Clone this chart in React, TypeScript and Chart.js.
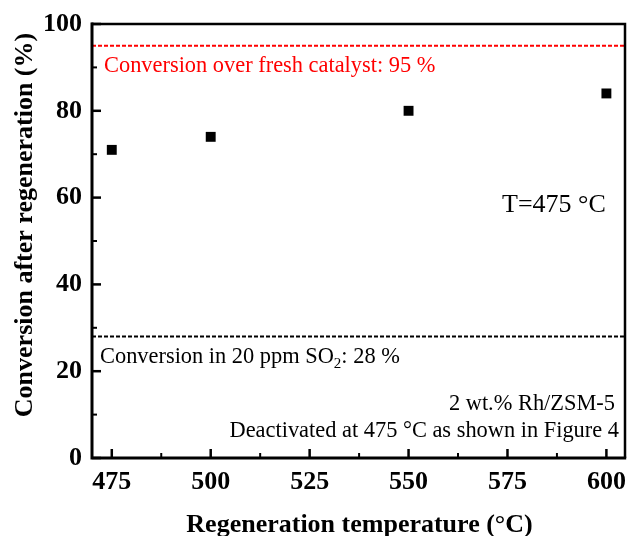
import React, { useEffect, useRef } from "react";
import { Chart, registerables } from "chart.js";

Chart.register(...registerables);

// ---- data ----
const regenTemps = [475, 500, 550, 600];
const conversion = [71, 74, 80, 84];
const freshConversion = 95;
const so2Conversion = 28;
const xRange = [470, 604.7];
const yRange = [0, 100];
const xMajorTicks = [475, 500, 525, 550, 575, 600];
const xMinorTicks = [487.5, 512.5, 537.5, 562.5, 587.5];
const yMajorTicks = [0, 20, 40, 60, 80, 100];
const yMinorTicks = [10, 30, 50, 70, 90];
const xTitle = "Regeneration temperature (°C)";
const yTitle = "Conversion after regeneration (%)";
const freshLabel = "Conversion over fresh catalyst: 95 %";
const so2LabelMain = "Conversion in 20 ppm SO";
const so2LabelSub = "2";
const so2LabelEnd = ": 28 %";
const tempLabel = "T=475 °C";
const catalystLabel = "2 wt.% Rh/ZSM-5";
const deactLabel = "Deactivated at 475 °C as shown in Figure 4";

const SERIF = "'Liberation Serif', 'Times New Roman', serif";

const decorPlugin = {
  id: "decor",
  afterDatasetsDraw(chart: any) {
    const ctx = chart.ctx as CanvasRenderingContext2D;
    const { left, right, top, bottom } = chart.chartArea;
    const xs = chart.scales.x;
    const ys = chart.scales.y;
    ctx.save();
    ctx.strokeStyle = "#000";
    ctx.lineCap = "butt";

    // ticks pointing inward
    ctx.lineWidth = 2.5;
    for (const v of yMajorTicks) {
      const y = ys.getPixelForValue(v);
      ctx.beginPath(); ctx.moveTo(left, y); ctx.lineTo(left + 9, y); ctx.stroke();
    }
    for (const v of xMajorTicks) {
      const x = xs.getPixelForValue(v);
      ctx.beginPath(); ctx.moveTo(x, bottom); ctx.lineTo(x, bottom - 9); ctx.stroke();
    }
    ctx.lineWidth = 2;
    for (const v of yMinorTicks) {
      const y = ys.getPixelForValue(v);
      ctx.beginPath(); ctx.moveTo(left, y); ctx.lineTo(left + 5, y); ctx.stroke();
    }
    for (const v of xMinorTicks) {
      const x = xs.getPixelForValue(v);
      ctx.beginPath(); ctx.moveTo(x, bottom); ctx.lineTo(x, bottom - 5); ctx.stroke();
    }

    // frame
    ctx.lineWidth = 2.5;
    ctx.beginPath(); ctx.moveTo(left - 1, top); ctx.lineTo(right, top); ctx.lineTo(right, bottom); ctx.stroke();
    ctx.lineWidth = 3;
    ctx.beginPath(); ctx.moveTo(left, top - 1.5); ctx.lineTo(left, bottom); ctx.lineTo(right + 1.2, bottom); ctx.stroke();

    // annotations
    ctx.textBaseline = "alphabetic";
    ctx.fillStyle = "#ff0000";
    ctx.font = `22.4px ${SERIF}`;
    ctx.textAlign = "left";
    ctx.fillText(freshLabel, left + 12, 72);

    ctx.fillStyle = "#000";
    ctx.fillText(so2LabelMain, left + 8, 363);
    let w = ctx.measureText(so2LabelMain).width;
    ctx.font = `15px ${SERIF}`;
    ctx.fillText(so2LabelSub, left + 8 + w, 368);
    const w2 = ctx.measureText(so2LabelSub).width;
    ctx.font = `22.4px ${SERIF}`;
    ctx.fillText(so2LabelEnd, left + 8 + w + w2, 363);

    ctx.textAlign = "right";
    ctx.fillText(catalystLabel, right - 10, 410);
    ctx.fillText(deactLabel, right - 6, 437);

    ctx.textAlign = "left";
    ctx.font = `26px ${SERIF}`;
    ctx.fillText(tempLabel, 502, 212);

    // axis titles
    ctx.font = `bold 26px ${SERIF}`;
    ctx.textAlign = "center";
    ctx.fillText(xTitle, (left + right) / 2 + 1, 532);
    ctx.save();
    ctx.translate(32, 225);
    ctx.rotate(-Math.PI / 2);
    ctx.fillText(yTitle, 0, 0);
    ctx.restore();

    ctx.restore();
  },
};

export default function App() {
  const ref = useRef<HTMLCanvasElement | null>(null);
  useEffect(() => {
    if (!ref.current) return;
    const tickFont = { family: SERIF, size: 26, weight: "bold" as const };
    const chart = new Chart(ref.current, {
      type: "scatter",
      data: {
        datasets: [
          {
            label: "Regenerated",
            data: regenTemps.map((t, i) => ({ x: t, y: conversion[i] })),
            pointStyle: "rect",
            pointRadius: 7,
            backgroundColor: "#000",
            borderWidth: 0,
            showLine: false,
          },
          {
            label: "Fresh",
            data: [
              { x: xRange[0], y: freshConversion },
              { x: xRange[1], y: freshConversion },
            ],
            showLine: true,
            borderColor: "#ff0000",
            borderWidth: 2,
            borderDash: [4, 2],
            pointRadius: 0,
          },
          {
            label: "SO2",
            data: [
              { x: xRange[0], y: so2Conversion },
              { x: xRange[1], y: so2Conversion },
            ],
            showLine: true,
            borderColor: "#000",
            borderWidth: 2,
            borderDash: [4, 2],
            pointRadius: 0,
          },
        ],
      },
      options: {
        animation: false,
        responsive: false,
        layout: { padding: { top: 24, right: 2, left: 0, bottom: 0 } },
        plugins: { legend: { display: false }, tooltip: { enabled: false } },
        scales: {
          x: {
            type: "linear",
            min: xRange[0],
            max: xRange[1],
            grid: { display: false, drawTicks: false },
            border: { display: false },
            ticks: { font: tickFont, color: "#000", padding: 9, maxRotation: 0, callback: (v: any) => String(v) },
            afterBuildTicks: (s: any) => { s.ticks = xMajorTicks.map((v) => ({ value: v })); },
            afterFit: (s: any) => { s.height = 78; s.paddingLeft = 0; s.paddingRight = 0; },
          },
          y: {
            type: "linear",
            min: yRange[0],
            max: yRange[1],
            grid: { display: false, drawTicks: false },
            border: { display: false },
            ticks: { font: tickFont, color: "#000", padding: 10, callback: (v: any) => String(v) },
            afterBuildTicks: (s: any) => { s.ticks = yMajorTicks.map((v) => ({ value: v })); },
            afterFit: (s: any) => { s.width = 92; s.paddingTop = 0; s.paddingBottom = 0; },
          },
        },
      },
      plugins: [decorPlugin],
    });
    return () => chart.destroy();
  }, []);
  return (
    <div style={{ position: "fixed", left: 0, top: 0, width: 632, height: 536, background: "#fff" }}>
      <canvas ref={ref} width={632} height={536} style={{ display: "block" }} />
    </div>
  );
}
